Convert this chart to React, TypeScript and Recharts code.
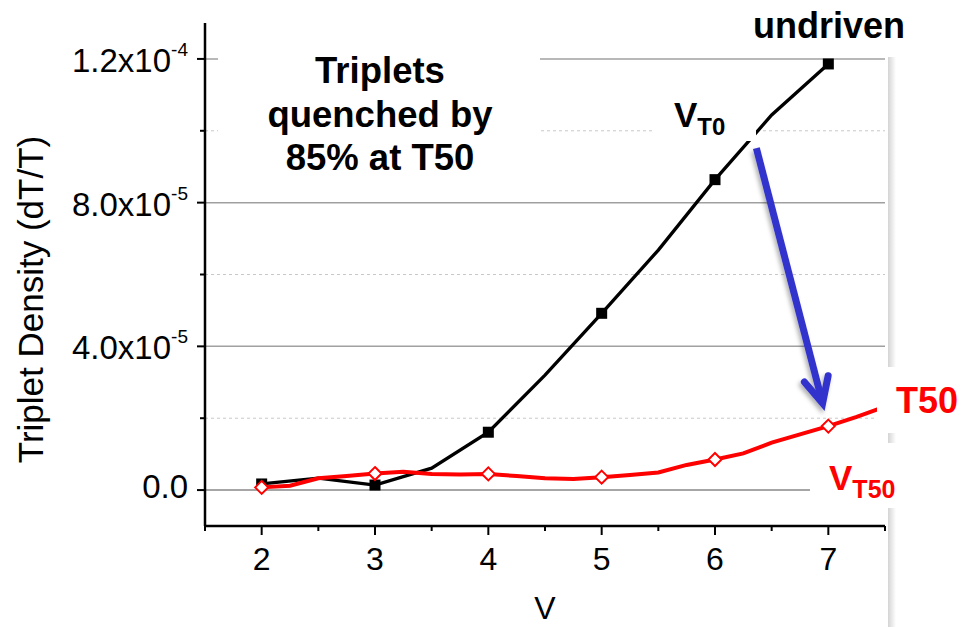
import React from 'react';
import { LineChart, Line, XAxis, YAxis, ReferenceLine } from 'recharts';

const FONT = "'Liberation Sans', Arial, Helvetica, sans-serif";

// undriven (V_T0) curve: vertices at half-volt steps, markers at integer volts
const undrivenV = [2, 2.5, 3, 3.5, 4, 4.5, 5, 5.5, 6, 6.5, 7];
const undrivenDensity = [1.7e-6, 3.3e-6, 1.4e-6, 6.1e-6, 1.61e-5, 3.2e-5, 4.92e-5, 6.68e-5, 8.64e-5, 1.044e-4, 1.186e-4];

// T50 (V_T50) curve: vertices at quarter-volt steps, markers at integer volts
const t50V = [2, 2.25, 2.5, 2.75, 3, 3.25, 3.5, 3.75, 4, 4.25, 4.5, 4.75, 5, 5.25, 5.5, 5.75, 6, 6.25, 6.5, 6.75, 7, 7.25, 7.5];
const t50Density = [0.75e-6, 1.2e-6, 3.3e-6, 3.9e-6, 4.6e-6, 5.1e-6, 4.5e-6, 4.3e-6, 4.5e-6, 3.9e-6, 3.3e-6, 3.1e-6, 3.6e-6, 4.2e-6, 4.9e-6, 7.0e-6, 8.5e-6, 1.02e-5, 1.32e-5, 1.55e-5, 1.78e-5, 2.04e-5, 2.32e-5];

const xDomain = [1.5, 7.5];
const yDomain = [-1e-5, 1.3e-4];
const xTicks = [1.5, 2, 2.5, 3, 3.5, 4, 4.5, 5, 5.5, 6, 6.5, 7, 7.5];
const xLabels = [2, 3, 4, 5, 6, 7];
const yTicks = [0, 2e-5, 4e-5, 6e-5, 8e-5, 1e-4, 1.2e-4];
const yMajor = [0, 4e-5, 8e-5, 1.2e-4];
const yMinor = [2e-5, 6e-5, 1e-4];
const yMantissa = ['0.0', '4.0x10', '8.0x10', '1.2x10'];
const yExponent = ['', '-5', '-5', '-4'];

// arrow from V_T0 to V_T50 (data coordinates)
const arrowStart = { v: 6.365, d: 9.52e-5 };
const arrowEnd = { v: 6.965, d: 2.23e-5 };

const undrivenData = undrivenV.map((v, i) => ({ v, d: undrivenDensity[i] }));
const t50Data = t50V.map((v, i) => ({ v, d: t50Density[i] }));

const isMajorX = (v: number) => xLabels.includes(v);
const isMajorY = (v: number) => yMajor.some((m) => Math.abs(m - v) < 1e-12);

function BottomTick(props: any) {
  const { x, y, payload } = props;
  const v = payload.value;
  const major = isMajorX(v);
  return (
    <g>
      <line x1={x} x2={x} y1={y} y2={y + (major ? 9 : 5)} stroke="#000" strokeWidth={2} />
      {major && (
        <text x={x} y={y + 44} textAnchor="middle" fontSize={32} fontFamily={FONT} fill="#000">
          {v}
        </text>
      )}
    </g>
  );
}

function TopTick(props: any) {
  const { x, y, payload } = props;
  const major = isMajorX(payload.value);
  return <line x1={x} x2={x} y1={y} y2={y + (major ? 10 : 5)} stroke="#000" strokeWidth={2} />;
}

function LeftTick(props: any) {
  const { x, y, payload } = props;
  const v = payload.value;
  const idx = yMajor.findIndex((m) => Math.abs(m - v) < 1e-12);
  const major = idx >= 0;
  return (
    <g>
      <line x1={x - (major ? 8 : 5)} x2={x} y1={y} y2={y} stroke="#000" strokeWidth={2} />
      {major && (
        <text x={x - 17} y={y + (v === 0 ? 8 : 13)} textAnchor="end" fontSize={33} fontFamily={FONT} fill="#000">
          {yMantissa[idx]}
          {yExponent[idx] && (
            <tspan fontSize={19} dy={-16}>
              {yExponent[idx]}
            </tspan>
          )}
        </text>
      )}
    </g>
  );
}

function RightTick(props: any) {
  const { x, y, payload } = props;
  const major = isMajorY(payload.value);
  return <line x1={x - (major ? 10 : 5)} x2={x} y1={y} y2={y} stroke="#000" strokeWidth={2} />;
}

function YTitle(props: any) {
  const vb = props.viewBox || { x: 0, y: 23, width: 205, height: 503 };
  const cx = vb.x + 43;
  const cy = vb.y + vb.height / 2 + 25;
  return (
    <text
      x={cx}
      y={cy}
      transform={`rotate(-90, ${cx}, ${cy})`}
      textAnchor="middle"
      fontSize={35}
      fontFamily={FONT}
      fill="#000"
    >
      Triplet Density (dT/T)
    </text>
  );
}

function SquareDot(p: any) {
  if (p.cx == null || p.cy == null || !Number.isInteger(p.payload.v)) return <g key={`s${p.index}`} />;
  return <rect key={`s${p.index}`} x={p.cx - 5.5} y={p.cy - 5.5} width={11} height={11} fill="#000" />;
}

function DiamondDot(p: any) {
  if (p.cx == null || p.cy == null || !Number.isInteger(p.payload.v)) return <g key={`d${p.index}`} />;
  const r = 6.5;
  const { cx, cy } = p;
  return (
    <polygon
      key={`d${p.index}`}
      points={`${cx},${cy - r} ${cx + r},${cy} ${cx},${cy + r} ${cx - r},${cy}`}
      fill="#fff"
      stroke="#ff0000"
      strokeWidth={2}
    />
  );
}

function ArrowShape(props: any) {
  const { x1, y1, x2, y2 } = props;
  const dx = x2 - x1;
  const dy = y2 - y1;
  const len = Math.hypot(dx, dy) || 1;
  const ux = dx / len;
  const uy = dy / len;
  const vx = x2 - ux * 7;
  const vy = y2 - uy * 7;
  const a = (26 * Math.PI) / 180;
  const L = 28;
  const bx = -ux;
  const by = -uy;
  const rot = (ang: number) => [bx * Math.cos(ang) - by * Math.sin(ang), bx * Math.sin(ang) + by * Math.cos(ang)];
  const [l1x, l1y] = rot(a);
  const [l2x, l2y] = rot(-a);
  return (
    <g>
      <defs>
        <filter id="arrowShadow" x="-50%" y="-50%" width="200%" height="200%">
          <feDropShadow dx={-2} dy={3} stdDeviation={2} floodColor="#000" floodOpacity={0.3} />
        </filter>
      </defs>
      <g filter="url(#arrowShadow)">
        <line x1={x1} y1={y1} x2={vx} y2={vy} stroke="#3333cc" strokeWidth={7} />
        <polyline
          points={`${vx + l1x * L},${vy + l1y * L} ${vx},${vy} ${vx + l2x * L},${vy + l2y * L}`}
          fill="none"
          stroke="#3333cc"
          strokeWidth={7}
          strokeLinecap="round"
          strokeLinejoin="miter"
        />
      </g>
    </g>
  );
}

export default function App() {
  const axisLine = { stroke: '#000', strokeWidth: 2.5 };
  return (
    <div style={{ position: 'absolute', left: 0, top: 0, width: 964, height: 627, background: '#fff' }}>
      <LineChart width={964} height={627} margin={{ top: 23, right: 79, bottom: 0, left: 0 }}>
        <XAxis
          xAxisId="b"
          dataKey="v"
          type="number"
          domain={xDomain}
          ticks={xTicks}
          interval={0}
          allowDataOverflow
          height={101}
          tickLine={false}
          tickSize={0}
          tickMargin={0}
          axisLine={axisLine}
          tick={<BottomTick />}
          label={{ value: 'V', position: 'insideBottom', offset: 8, fontSize: 32, fill: '#000', fontFamily: FONT }}
        />
        <XAxis
          xAxisId="t"
          orientation="top"
          dataKey="v"
          type="number"
          domain={xDomain}
          ticks={xTicks}
          interval={0}
          allowDataOverflow
          height={0}
          tickLine={false}
          tickSize={0}
          tickMargin={0}
          axisLine={axisLine}
          tick={<TopTick />}
        />
        <YAxis
          yAxisId="l"
          type="number"
          domain={yDomain}
          ticks={yTicks}
          interval={0}
          allowDataOverflow
          width={205}
          tickLine={false}
          tickSize={0}
          tickMargin={0}
          axisLine={axisLine}
          tick={<LeftTick />}
          label={YTitle}
        />
        <YAxis
          yAxisId="r"
          orientation="right"
          type="number"
          domain={yDomain}
          ticks={yTicks}
          interval={0}
          allowDataOverflow
          width={0}
          tickLine={false}
          tickSize={0}
          tickMargin={0}
          axisLine={axisLine}
          tick={<RightTick />}
        />
        {yMinor.map((v) => (
          <ReferenceLine key={`mi${v}`} xAxisId="b" yAxisId="l" y={v} stroke="#c8c8c8" strokeWidth={1} strokeDasharray="3 3" />
        ))}
        {yMajor.map((v) => (
          <ReferenceLine key={`ma${v}`} xAxisId="b" yAxisId="l" y={v} stroke={v === 0 ? '#888' : '#a0a0a0'} strokeWidth={1.5} />
        ))}
        <Line
          xAxisId="b"
          yAxisId="l"
          data={undrivenData}
          dataKey="d"
          type="linear"
          stroke="#000"
          strokeWidth={3.3}
          dot={SquareDot}
          activeDot={false}
          isAnimationActive={false}
        />
        <Line
          xAxisId="b"
          yAxisId="l"
          data={t50Data}
          dataKey="d"
          type="linear"
          stroke="#ff0000"
          strokeWidth={4}
          dot={DiamondDot}
          activeDot={false}
          isAnimationActive={false}
        />
        <ReferenceLine
          xAxisId="b"
          yAxisId="l"
          segment={[
            { x: arrowStart.v, y: arrowStart.d },
            { x: arrowEnd.v, y: arrowEnd.d },
          ]}
          shape={ArrowShape}
          ifOverflow="visible"
        />
      </LineChart>
      <svg width={964} height={627} style={{ position: 'absolute', left: 0, top: 0, pointerEvents: 'none' }}>
        <defs>
          <linearGradient id="rshadow" x1="0" x2="1" y1="0" y2="0">
            <stop offset="0%" stopColor="#d4d4d4" />
            <stop offset="100%" stopColor="#ffffff" />
          </linearGradient>
        </defs>
        <rect x={888} y={57} width={8} height={570} fill="url(#rshadow)" />
        {/* annotation boxes */}
        <rect x={218} y={36} width={322} height={150} fill="#fff" />
        <rect x={653} y={88} width={103} height={53} fill="#fff" />
        <rect x={733} y={0} width={231} height={56} fill="#fff" />
        <rect x={877} y={367} width={87} height={66} fill="#fff" />
        <rect x={810} y={443} width={154} height={65} fill="#fff" />
        <g fontFamily={FONT} fontWeight="bold">
          <text x={380} y={83} textAnchor="middle" fontSize={36.5} fill="#000">Triplets</text>
          <text x={380} y={127} textAnchor="middle" fontSize={36.5} fill="#000">quenched by</text>
          <text x={380} y={170} textAnchor="middle" fontSize={36.5} fill="#000">85% at T50</text>
          <text x={753} y={38} fontSize={36} fill="#000">undriven</text>
          <text x={674} y={127} fontSize={35} fill="#000">
            V<tspan fontSize={24} dy={8}>T0</tspan>
          </text>
          <text x={896} y={413} fontSize={36} fill="#ff0000">T50</text>
          <text x={829} y={490} fontSize={35} fill="#ff0000">
            V<tspan fontSize={25} dy={8}>T50</tspan>
          </text>
        </g>
      </svg>
    </div>
  );
}
